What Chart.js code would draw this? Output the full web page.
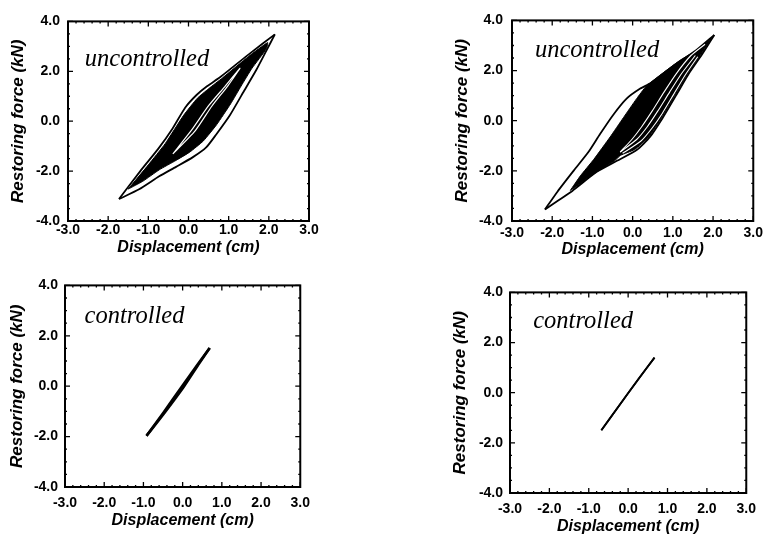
<!DOCTYPE html>
<html>
<head>
<meta charset="utf-8">
<script src="https://cdn.jsdelivr.net/npm/chart.js@4.4.1/dist/chart.umd.min.js"></script>
<style>
  html, body { margin: 0; padding: 0; background: #fff; }
  #wrap { position: relative; width: 768px; height: 538px; overflow: hidden; }
  #wrap canvas { position: absolute; }
</style>
</head>
<body>
<div id="wrap"></div>
<script>
// axis ranges / tick labels
const xTicks = [-3, -2, -1, 0, 1, 2, 3];
const yTicks = [-4, -2, 0, 2, 4];
const xTitle = "Displacement (cm)";
const yTitle = "Restoring force (kN)";

// top left: uncontrolled
const tlOuterUp = [[-1.73, -3.12], [-1.2, -2.0], [-0.75, -1.1], [-0.4, -0.3], [-0.08, 0.55], [0.2, 1.05], [0.46, 1.4], [0.8, 1.78], [1.5, 2.68], [2.15, 3.48]];
const tlOuterDown = [[2.15, 3.48], [1.94, 2.83], [1.69, 2.06], [1.36, 1.15], [1.03, 0.24], [0.69, -0.53], [0.44, -1.05], [0.11, -1.44], [-0.31, -1.83], [-0.73, -2.21], [-1.23, -2.73], [-1.73, -3.12]];
const tlDense = [[-1.5, -2.72], [-1.0, -1.75], [-0.58, -0.9], [-0.12, 0.24], [0.22, 0.92], [0.5, 1.3], [0.85, 1.74], [1.5, 2.6], [1.97, 3.15], [1.94, 2.9], [1.58, 2.12], [1.31, 1.41], [1.05, 0.7], [0.7, -0.14], [0.37, -0.79], [0.03, -1.24], [-0.31, -1.57], [-0.73, -1.95], [-1.14, -2.41], [-1.5, -2.72]];
const tlInner = [[-0.39, -1.31], [0.08, -0.35], [0.5, 0.62], [0.9, 1.38], [1.28, 2.12], [0.98, 1.42], [0.58, 0.6], [0.16, -0.4], [-0.39, -1.31]];

// top right: uncontrolled
const trOuterUp = [[-2.18, -3.54], [-1.87, -2.83], [-1.46, -1.98], [-1.1, -1.25], [-0.81, -0.53], [-0.48, 0.24], [-0.15, 0.88], [0.18, 1.27], [0.45, 1.5], [1.0, 2.17], [1.58, 2.81], [2.03, 3.42]];
const trOuterDown = [[2.03, 3.42], [1.74, 2.68], [1.41, 1.91], [1.08, 1.01], [0.75, 0.12], [0.43, -0.65], [0.1, -1.17], [-0.39, -1.6], [-0.9, -2.05], [-1.5, -2.8], [-1.87, -3.2], [-2.18, -3.54]];
const trDense = [[-1.55, -2.78], [-1.3, -2.2], [-0.97, -1.55], [-0.56, -0.65], [-0.23, 0.12], [0.1, 0.88], [0.34, 1.38], [0.67, 1.8], [1.17, 2.4], [1.58, 2.8], [1.95, 3.25], [1.7, 2.65], [1.38, 1.91], [1.05, 1.01], [0.72, 0.12], [0.4, -0.65], [0.05, -1.15], [-0.3, -1.38], [-0.45, -1.6], [-0.9, -2.05], [-1.25, -2.45], [-1.55, -2.78]];
const trStripeA = [[-0.31, -1.25], [-0.02, -0.75], [0.22, -0.25], [0.48, 0.37], [0.78, 1.14], [1.1, 1.91], [1.45, 2.6], [1.8, 3.05]];
const trStripeB = [[-0.31, -1.25], [0.1, -0.75], [0.36, -0.25], [0.62, 0.37], [0.92, 1.14], [1.23, 1.91], [1.56, 2.6]];
const trStripeC = [[-0.25, -1.3], [0.2, -0.82], [0.48, -0.3], [0.74, 0.3], [1.02, 1.05], [1.32, 1.85], [1.62, 2.55]];

// bottom left: controlled
const blUp = [[-0.92, -1.97], [-0.5, -1.07], [0.0, 0.03], [0.4, 0.9], [0.69, 1.52]];
const blDown = [[0.69, 1.52], [0.42, 0.9], [0.03, -0.02], [-0.46, -1.05], [-0.92, -1.97]];

// bottom right: controlled
const brUp = [[-0.68, -1.5], [-0.2, -0.45], [0.25, 0.53], [0.67, 1.4]];
const brDown = [[0.67, 1.4], [0.22, 0.45], [-0.23, -0.52], [-0.68, -1.5]];

const sans = "'Liberation Sans', Arial, Helvetica, sans-serif";
const serif = "'Liberation Serif', 'Times New Roman', Times, serif";

function curve(points, extra) {
  return Object.assign({
    data: points.map(([x, y]) => ({ x, y })),
    showLine: true,
    pointRadius: 0,
    borderColor: "#000",
    borderWidth: 1.8,
    fill: false,
    tension: 0.2,
  }, extra);
}

function dense(points) {
  return curve(points, { backgroundColor: "#000", borderWidth: 1, fill: "shape", tension: 0.15 });
}

function white(points, width) {
  return curve(points, { borderColor: "#fff", borderWidth: width });
}

// frame with inward ticks on all four sides
const framePlugin = {
  id: "frame",
  afterDatasetsDraw(chart) {
    const { ctx, chartArea: a, scales: { x, y } } = chart;
    ctx.save();
    ctx.strokeStyle = "#000";
    ctx.lineWidth = 1.3;
    ctx.beginPath();
    for (let v = -30; v <= 30; v += 2) {
      const px = x.getPixelForValue(v / 10);
      const len = v % 10 === 0 ? 5 : 2;
      ctx.moveTo(px, a.bottom);
      ctx.lineTo(px, a.bottom - len);
      ctx.moveTo(px, a.top);
      ctx.lineTo(px, a.top + len);
    }
    for (let v = -40; v <= 40; v += 5) {
      const py = y.getPixelForValue(v / 10);
      const len = v % 20 === 0 ? 5 : 2;
      ctx.moveTo(a.left, py);
      ctx.lineTo(a.left + len, py);
      ctx.moveTo(a.right, py);
      ctx.lineTo(a.right - len, py);
    }
    ctx.stroke();
    ctx.lineWidth = 2;
    ctx.strokeRect(a.left, a.top, a.right - a.left, a.bottom - a.top);
    ctx.restore();
  },
};

const labelPlugin = {
  id: "panelLabel",
  afterDatasetsDraw(chart, args, opts) {
    const { ctx, scales: { x, y } } = chart;
    ctx.save();
    ctx.font = "italic 24.5px " + serif;
    ctx.fillStyle = "#000";
    ctx.textBaseline = "alphabetic";
    ctx.fillText(opts.text, x.getPixelForValue(opts.x), y.getPixelForValue(opts.y));
    ctx.restore();
  },
};

const panels = [
  {
    box: { left: 8, top: 5, width: 313, height: 252 }, yW: 60, xH: 36, xPad: 1, yPad: 8,
    label: { text: "uncontrolled", x: -2.58, y: 2.21 },
    datasets: [
      white(tlInner, 1.2),
      curve(tlOuterUp),
      curve(tlOuterDown),
      dense(tlDense),
    ],
  },
  {
    box: { left: 452, top: 3, width: 315, height: 256 }, yW: 60, xH: 38, xPad: 4, yPad: 9,
    label: { text: "uncontrolled", x: -2.43, y: 2.56 },
    datasets: [
      white(trStripeA, 1.1),
      white(trStripeB, 1.1),
      white(trStripeC, 1.1),
      curve(trOuterUp),
      curve(trOuterDown),
      dense(trDense),
    ],
  },
  {
    box: { left: 7, top: 270, width: 311, height: 260 }, yW: 58, xH: 43, xPad: 8, yPad: 7,
    label: { text: "controlled", x: -2.5, y: 2.51 },
    datasets: [curve(blUp, { borderWidth: 2.6 }), curve(blDown, { borderWidth: 2.6 })],
  },
  {
    box: { left: 450, top: 277, width: 314, height: 259 }, yW: 60, xH: 43, xPad: 8, yPad: 7,
    label: { text: "controlled", x: -2.41, y: 2.57 },
    datasets: [curve(brUp, { borderWidth: 1.8 }), curve(brDown, { borderWidth: 1.8 })],
  },
];

const wrap = document.getElementById("wrap");

panels.forEach((p) => {
  const canvas = document.createElement("canvas");
  canvas.width = p.box.width;
  canvas.height = p.box.height;
  canvas.style.left = p.box.left + "px";
  canvas.style.top = p.box.top + "px";
  wrap.appendChild(canvas);

  const tickFont = { family: sans, size: 14, weight: "bold" };

  new Chart(canvas, {
    type: "scatter",
    data: { datasets: p.datasets },
    plugins: [framePlugin, labelPlugin],
    options: {
      responsive: false,
      animation: false,
      layout: { padding: { top: 10, right: 12, left: 0, bottom: 0 } },
      plugins: {
        legend: { display: false },
        tooltip: { enabled: false },
        panelLabel: p.label,
      },
      scales: {
        x: {
          type: "linear",
          min: xTicks[0],
          max: xTicks[xTicks.length - 1],
          afterFit: (s) => { s.height = p.xH; },
          afterBuildTicks: (s) => { s.ticks = xTicks.map((v) => ({ value: v })); },
          grid: { display: false, drawTicks: false },
          border: { display: false },
          ticks: {
            padding: p.xPad,
            color: "#000",
            font: tickFont,
            maxRotation: 0,
            autoSkip: false,
            callback: (v) => Number(v).toFixed(1),
          },
          title: {
            display: true,
            text: xTitle,
            color: "#000",
            padding: 0,
            font: { family: sans, size: 16, style: "italic", weight: "bold" },
          },
        },
        y: {
          type: "linear",
          min: yTicks[0],
          max: yTicks[yTicks.length - 1],
          afterFit: (s) => { s.width = p.yW; },
          afterBuildTicks: (s) => { s.ticks = yTicks.map((v) => ({ value: v })); },
          grid: { display: false, drawTicks: false },
          border: { display: false },
          ticks: {
            padding: p.yPad,
            color: "#000",
            font: tickFont,
            autoSkip: false,
            callback: (v) => Number(v).toFixed(1),
          },
          title: {
            display: true,
            text: yTitle,
            color: "#000",
            padding: 0,
            font: { family: sans, size: 17, style: "italic", weight: "bold" },
          },
        },
      },
    },
  });
});
</script>
</body>
</html>
